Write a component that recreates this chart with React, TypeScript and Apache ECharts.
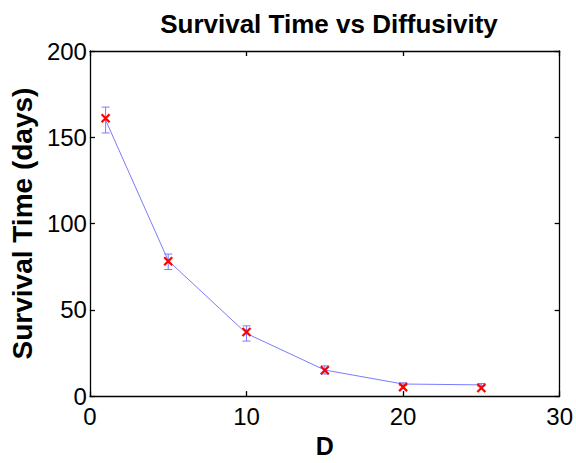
import React, { useEffect, useRef } from "react";
import * as echarts from "echarts";

const dValues = [1, 5, 10, 15, 20, 25];
const meanTimes = [160, 78.5, 36.3, 15.1, 7.0, 6.5];
const errLow = [152.5, 73.4, 31.9, 12.8, 6.2, 5.8];
const errHigh = [167.5, 82.3, 40.7, 17.5, 7.7, 7.3];
const markerTimes = [161, 78.1, 37.2, 15.0, 5.2, 4.7];

const FONT = "'Liberation Sans', Arial, Helvetica, sans-serif";
const BLUE = "#7b7bff";

export default function App() {
  const ref = useRef<HTMLDivElement>(null);
  useEffect(() => {
    if (!ref.current) return;
    const chart = echarts.init(ref.current, undefined, { renderer: "svg" });
    const errData = dValues.map((d, i) => [d, errLow[i], errHigh[i]]);
    const lineData = dValues.map((d, i) => [d, meanTimes[i]]);
    const markData = dValues.map((d, i) => [d, markerTimes[i]]);
    const axisLine = { show: true, onZero: false, lineStyle: { color: "#000", width: 1.3 } };
    const tick = { show: true, inside: true, length: 5, lineStyle: { color: "#000", width: 1.3 } };
    chart.setOption({
      animation: false,
      backgroundColor: "#fff",
      title: {
        text: "Survival Time vs Diffusivity",
        left: 324,
        textAlign: "center",
        top: 6,
        textStyle: { fontFamily: FONT, fontWeight: "bold", fontSize: 26, color: "#000" },
      },
      grid: { left: 89, right: 16, top: 51, bottom: 57, containLabel: false },
      xAxis: [
        {
          type: "value",
          min: 0,
          max: 30,
          interval: 10,
          name: "D",
          nameLocation: "middle",
          nameGap: 30,
          nameTextStyle: { fontFamily: FONT, fontWeight: "bold", fontSize: 25, color: "#000" },
          axisLine,
          axisTick: tick,
          axisLabel: { fontFamily: FONT, fontSize: 24, color: "#000", margin: 8 },
          splitLine: { show: false },
        },
        {
          type: "value",
          position: "top",
          min: 0,
          max: 30,
          interval: 10,
          axisLine,
          axisTick: tick,
          axisLabel: { show: false },
          splitLine: { show: false },
        },
      ],
      yAxis: [
        {
          type: "value",
          min: 0,
          max: 200,
          interval: 50,
          name: "Survival Time (days)",
          nameLocation: "middle",
          nameGap: 52,
          nameTextStyle: { fontFamily: FONT, fontWeight: "bold", fontSize: 28, color: "#000" },
          axisLine,
          axisTick: tick,
          axisLabel: { fontFamily: FONT, fontSize: 24, color: "#000", margin: 3 },
          splitLine: { show: false },
        },
        {
          type: "value",
          position: "right",
          min: 0,
          max: 200,
          interval: 50,
          axisLine,
          axisTick: tick,
          axisLabel: { show: false },
          splitLine: { show: false },
        },
      ],
      series: [
        {
          type: "line",
          data: lineData,
          symbol: "none",
          lineStyle: { color: BLUE, width: 1 },
          z: 2,
        },
        {
          type: "custom",
          data: errData,
          z: 3,
          renderItem: (params: any, api: any) => {
            const x = api.value(0);
            const top = api.coord([x, api.value(2)]);
            const bot = api.coord([x, api.value(1)]);
            const hw = 4;
            const style = { stroke: BLUE, lineWidth: 1, fill: "none" };
            return {
              type: "group",
              children: [
                { type: "line", shape: { x1: top[0], y1: top[1], x2: bot[0], y2: bot[1] }, style },
                { type: "line", shape: { x1: top[0] - hw, y1: top[1], x2: top[0] + hw, y2: top[1] }, style },
                { type: "line", shape: { x1: bot[0] - hw, y1: bot[1], x2: bot[0] + hw, y2: bot[1] }, style },
              ],
            };
          },
        },
        {
          type: "custom",
          data: markData,
          z: 4,
          renderItem: (params: any, api: any) => {
            const p = api.coord([api.value(0), api.value(1)]);
            const s = 4;
            const style = { stroke: "#ff0000", lineWidth: 2.2, fill: "none" };
            return {
              type: "group",
              children: [
                { type: "line", shape: { x1: p[0] - s, y1: p[1] - s, x2: p[0] + s, y2: p[1] + s }, style },
                { type: "line", shape: { x1: p[0] - s, y1: p[1] + s, x2: p[0] + s, y2: p[1] - s }, style },
              ],
            };
          },
        },
      ],
    });
    return () => chart.dispose();
  }, []);
  return (
    <div
      ref={ref}
      style={{ width: 576, height: 463, position: "absolute", left: 0, top: 0 }}
    />
  );
}
